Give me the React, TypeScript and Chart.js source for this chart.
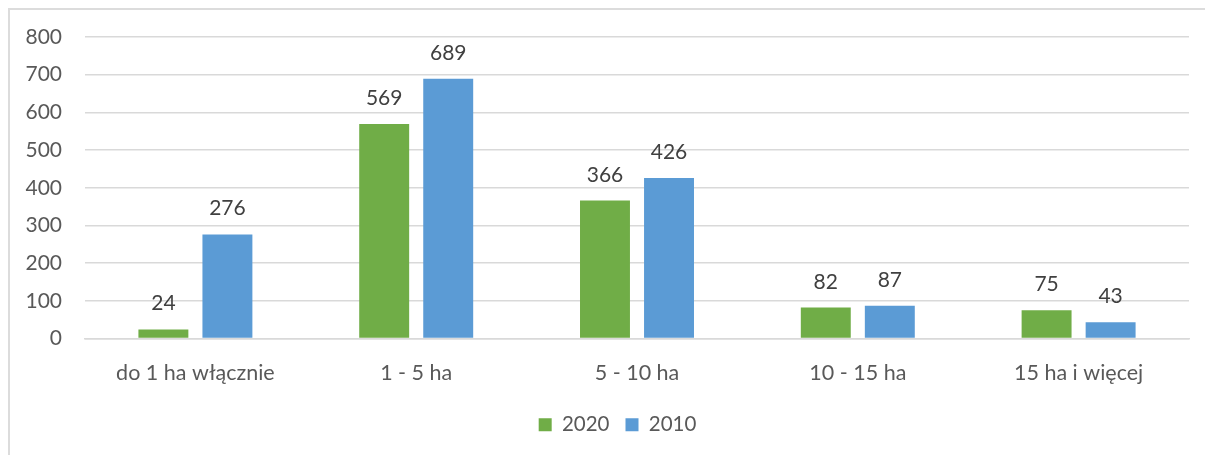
import React, { useEffect, useRef } from "react";
import { Chart, registerables } from "chart.js";

Chart.register(...registerables);

const categories = ["do 1 ha włącznie", "1 - 5 ha", "5 - 10 ha", "10 - 15 ha", "15 ha i więcej"];
const series2020 = [24, 569, 366, 82, 75];
const series2010 = [276, 689, 426, 87, 43];
const seriesNames = ["2020", "2010"];
const yTicks = [0, 100, 200, 300, 400, 500, 600, 700, 800];

const FONT = "Lato, 'Noto Sans', sans-serif";

const valueLabels = {
  id: "valueLabels",
  afterDatasetsDraw(chart: any) {
    const ctx = chart.ctx;
    ctx.save();
    ctx.font = `21px ${FONT}`;
    ctx.fillStyle = "#404040";
    ctx.textAlign = "center";
    ctx.textBaseline = "alphabetic";
    chart.data.datasets.forEach((ds: any, i: number) => {
      const meta = chart.getDatasetMeta(i);
      meta.data.forEach((bar: any, j: number) => {
        ctx.fillText(String(ds.data[j]), bar.x, bar.y - 19);
      });
    });
    ctx.restore();
  },
};

const legendShift = {
  id: "legendShift",
  afterLayout(chart: any) {
    if (chart.legend) {
      chart.legend.left += 18;
      chart.legend.right += 18;
    }
  },
};

export default function App() {
  const ref = useRef<HTMLCanvasElement>(null);
  useEffect(() => {
    if (!ref.current) return;
    const chart = new Chart(ref.current, {
      type: "bar",
      data: {
        labels: categories,
        datasets: [
          { label: seriesNames[0], data: series2020, backgroundColor: "#70AD47" },
          { label: seriesNames[1], data: series2010, backgroundColor: "#5B9BD5" },
        ],
      },
      options: {
        animation: false,
        responsive: false,
        devicePixelRatio: 1,
        layout: { padding: { top: 27, right: 16, left: 0, bottom: 10 } },
        datasets: { bar: { categoryPercentage: 0.58, barPercentage: 0.78 } },
        scales: {
          x: {
            afterFit: (axis: any) => {
              axis.height = 60;
              axis.paddingTop = 0;
              axis.paddingBottom = 0;
            },
            grid: { display: false, drawTicks: false },
            border: { color: "#d9d9d9", width: 1.5 },
            ticks: { color: "#595959", font: { family: FONT, size: 21.5 }, padding: 22, maxRotation: 0 },
          },
          y: {
            min: 0,
            max: 800,
            afterBuildTicks: (axis: any) => {
              axis.ticks = yTicks.map((v) => ({ value: v }));
            },
            afterFit: (axis: any) => {
              axis.width = 75;
              axis.paddingTop = 0;
              axis.paddingBottom = 0;
            },
            grid: { color: "#d9d9d9", lineWidth: 1.5, drawTicks: false },
            border: { display: false },
            ticks: { color: "#595959", font: { family: FONT, size: 21 }, padding: 23 },
          },
        },
        plugins: {
          legend: {
            position: "bottom",
            labels: {
              color: "#595959",
              font: { family: FONT, size: 20.5 },
              boxWidth: 13,
              boxHeight: 13,
              padding: 16,
            },
          },
          tooltip: { enabled: false },
        },
      },
      plugins: [valueLabels, legendShift],
    });
    return () => chart.destroy();
  }, []);
  return (
    <div
      style={{
        position: "fixed",
        left: 8,
        top: 8,
        width: 1210,
        height: 460,
        borderTop: "2px solid #dcdcdc",
        borderLeft: "2px solid #dcdcdc",
        background: "#fff",
      }}
    >
      <canvas ref={ref} width={1195} height={445} style={{ display: "block" }} />
    </div>
  );
}
